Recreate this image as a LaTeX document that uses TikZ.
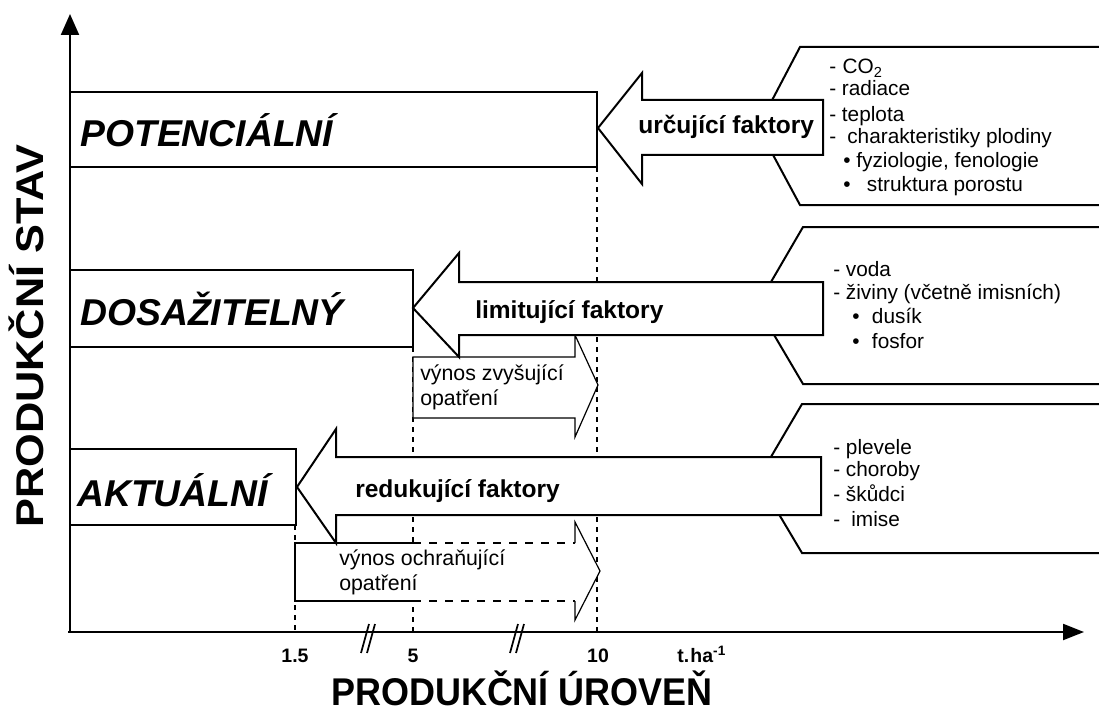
\documentclass[tikz,border=0pt]{standalone}
\usepackage{fontspec}
\setmainfont{Liberation Sans}
\usetikzlibrary{arrows.meta}
\newcommand\myBigF{\fontsize{28}{30}\selectfont\bfseries\itshape}
\newcommand\myArrF{\fontsize{18.4}{20}\selectfont\bfseries}
\newcommand\myListF{\fontsize{15.6}{18}\selectfont}
\newcommand\myVynF{\fontsize{16}{18}\selectfont}
\newcommand\myTickF{\fontsize{14.6}{16}\selectfont\bfseries}
\newcommand\myTitleF{\fontsize{29}{32}\selectfont\bfseries}
\begin{document}
\begin{tikzpicture}[x=0.75pt,y=-0.75pt,
  outl/.style={draw, line width=1.5pt, line join=miter},
  arrowshape/.style={outl, fill=white},
  thinarrow/.style={draw, line width=0.9pt, line join=miter},
  dotv/.style={line width=1.6pt, dash pattern=on 3.5pt off 4pt},
  dashh/.style={line width=0.9pt, dash pattern=on 6pt off 6pt},
  lbl/.style={inner sep=0pt, anchor=base west},
  tick/.style={inner sep=0pt, anchor=base, font=\myTickF},
  axis/.style={line width=1.6pt},
  brk/.style={line width=1.3pt}]
\useasboundingbox (0,0) rectangle (1099,713);
\clip (0,0) rectangle (1099,713);

% hexagon-like factor panels (cut by the right edge)
\draw[outl] (1110,47) -- (800,47) -- (758,127) -- (800,205) -- (1110,205);
\draw[outl] (1110,227) -- (803,227) -- (757,306) -- (803,384) -- (1110,384);
\draw[outl] (1110,404) -- (802,404) -- (758,479) -- (802,553) -- (1110,553);

% dotted level lines
\draw[dotv] (597,167) -- (597,632);
\draw[dotv] (413,347) -- (413,632);
\draw[dotv] (295,525) -- (295,632);

% state boxes
\draw[outl, fill=white] (70,92) rectangle (597,167);
\draw[outl, fill=white] (70,270) rectangle (413,347);
\draw[outl, fill=white] (70,449) rectangle (296,525);

% yield increasing measures arrow
\draw[thinarrow, fill=white] (413,357) -- (575,357) -- (575,335) -- (598,385) -- (575,437) -- (575,418) -- (413,418) -- cycle;

% yield protecting measures arrow
\fill[white] (295,543) -- (575,543) -- (575,522) -- (600,571) -- (575,620) -- (575,601) -- (295,601) -- cycle;
\draw[thinarrow] (413,543) -- (295,543) -- (295,601) -- (413,601);
\draw[dashh] (413,543) -- (575,543);
\draw[dashh] (413,601) -- (575,601);
\draw[thinarrow] (575,543) -- (575,522) -- (600,571) -- (575,620) -- (575,601);

% factor arrows
\draw[arrowshape] (598,128) -- (642,73) -- (642,100) -- (823,100) -- (823,155) -- (642,155) -- (642,184) -- cycle;
\draw[arrowshape] (413,308) -- (459,253) -- (459,282) -- (823,282) -- (823,335) -- (459,335) -- (459,357) -- cycle;
\draw[arrowshape] (297,487) -- (336,429) -- (336,457) -- (821,457) -- (821,515) -- (336,515) -- (336,543) -- cycle;

% axes
\draw[axis, -{Triangle[length=15.75pt,width=13.5pt]}] (70,632) -- (70,14);
\draw[axis, -{Triangle[length=15.75pt,width=12pt]}] (68,632) -- (1084,632);

% axis breaks
\draw[brk] (361,653) -- (369,624);
\draw[brk] (367,653) -- (375,624);
\draw[brk] (510,653) -- (518,624);
\draw[brk] (516,653) -- (524,624);

% state labels
\node[lbl, font=\myBigF] (pot) at (80,147) {POTENCIÁLNÍ};
\node[lbl, font=\myBigF] (dos) at (80,325) {DOSAŽITELNÝ};
\node[lbl, font=\myBigF] (akt) at (77,506) {AKTUÁLNÍ};

% arrow labels
\node[lbl, font=\myArrF] (urc) at (638,134) {určující faktory};
\node[lbl, font=\myArrF] (lim) at (475,318) {limitující faktory};
\node[lbl, font=\myArrF] (red) at (355,497) {redukující faktory};

% measures labels
\node[lbl, font=\myVynF] (vz1) at (420,380) {výnos zvyšující};
\node[lbl, font=\myVynF] (vz2) at (420,405) {opatření};
\node[lbl, font=\myVynF] (vo1) at (339,565) {výnos ochraňující};
\node[lbl, font=\myVynF] (vo2) at (339,590) {opatření};

% list 1
\node[lbl, font=\myListF] (l11) at (829,74) {-\hspace{0.5pt} CO\textsubscript{2}};
\node[lbl, font=\myListF] (l12) at (829,96) {- radiace};
\node[lbl, font=\myListF] (l13) at (829,122) {- teplota};
\node[lbl, font=\myListF] (l14) at (829,144) {-\hspace{4pt} charakteristiky plodiny};
\node[lbl, font=\myListF] (l15) at (843,168) {• fyziologie, fenologie};
\node[lbl, font=\myListF] (l16) at (843,191) {•\hspace{8pt} struktura porostu};

% list 2
\node[lbl, font=\myListF] (l21) at (833,276) {- voda};
\node[lbl, font=\myListF] (l22) at (833,299) {- živiny (včetně imisních)};
\node[lbl, font=\myListF] (l23) at (852,323) {•\hspace{5pt} dusík};
\node[lbl, font=\myListF] (l24) at (852,348) {•\hspace{5pt} fosfor};

% list 3
\node[lbl, font=\myListF] (l31) at (833,454) {- plevele};
\node[lbl, font=\myListF] (l32) at (833,476) {- choroby};
\node[lbl, font=\myListF] (l33) at (833,501) {- škůdci};
\node[lbl, font=\myListF] (l34) at (833,526) {-\hspace{4pt} imise};

% tick labels
\node[tick] (t15) at (295,662) {1.5};
\node[tick] (t5) at (413,662) {5};
\node[tick] (t10) at (598,662) {10};
\node[lbl, font=\myTickF] (unit) at (677,662) {t.\hspace{1pt}ha\textsuperscript{-1}};

% axis titles
\node[inner sep=0pt, anchor=base, rotate=90, font=\myTitleF] (ytitle) at (43,336) {\scalebox{1.12}[1]{PRODUKČNÍ STAV}};
\node[inner sep=0pt, anchor=base, font=\myTitleF] (xtitle) at (522,705) {\scalebox{0.93}[1]{PRODUKČNÍ ÚROVEŇ}};
\end{tikzpicture}
\end{document}
